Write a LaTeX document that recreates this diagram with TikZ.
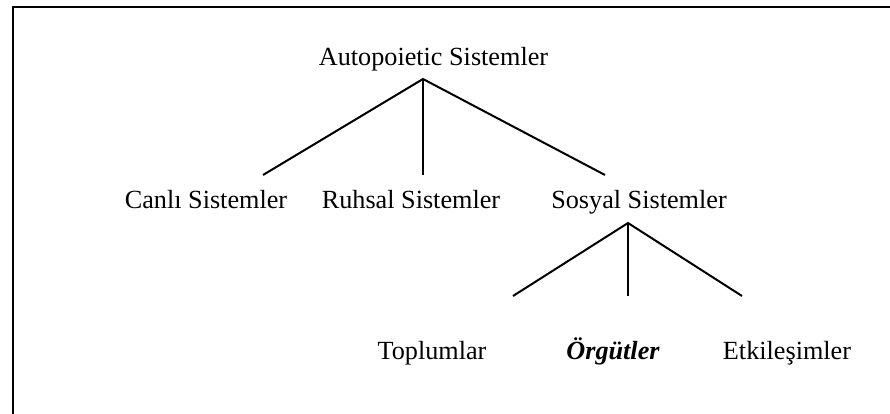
\documentclass[tikz,border=0pt]{standalone}
\usepackage{fontspec}
\setmainfont{Liberation Serif}
\begin{document}
\begin{tikzpicture}[x=1pt,y=-1pt,
  label/.style={inner sep=0pt,anchor=base,font=\fontsize{26.2}{30}\selectfont},
  branch/.style={line width=2pt,line cap=butt},
  frame/.style={line width=2.4pt}]
\clip (0,0) rectangle (890,414);
\useasboundingbox (0,0) rectangle (890,414);
% page frame (right and bottom edges fall outside)
\draw[frame] (13,7) rectangle (905,430);

% labels
\node[label] (auto)   at (433.5,66)  {Autopoietic Sistemler};
\node[label] (canli)  at (206,208)   {Canlı Sistemler};
\node[label] (ruhsal) at (411,208)   {Ruhsal Sistemler};
\node[label] (sosyal) at (639,208)   {Sosyal Sistemler};
\node[label] (topl)   at (432,359)   {Toplumlar};
\node[label] (orgut)  at (613,359)   {\bfseries\itshape Örgütler};
\node[label] (etki)   at (787,359)   {Etkileşimler};

% branching points
\coordinate (autoJ) at (423,79);
\coordinate (canliJ) at (263,175);
\coordinate (ruhsalJ) at (423,175);
\coordinate (sosyalJ) at (605,175);
\coordinate (sosJ) at (628,223);
\coordinate (toplJ) at (513,296);
\coordinate (orgutJ) at (628,296);
\coordinate (etkiJ) at (742,296);

\draw[branch] (canliJ) -- (autoJ) -- (sosyalJ);
\draw[branch] (autoJ) -- (ruhsalJ);
\draw[branch] (toplJ) -- (sosJ) -- (etkiJ);
\draw[branch] (sosJ) -- (orgutJ);
\end{tikzpicture}
\end{document}
